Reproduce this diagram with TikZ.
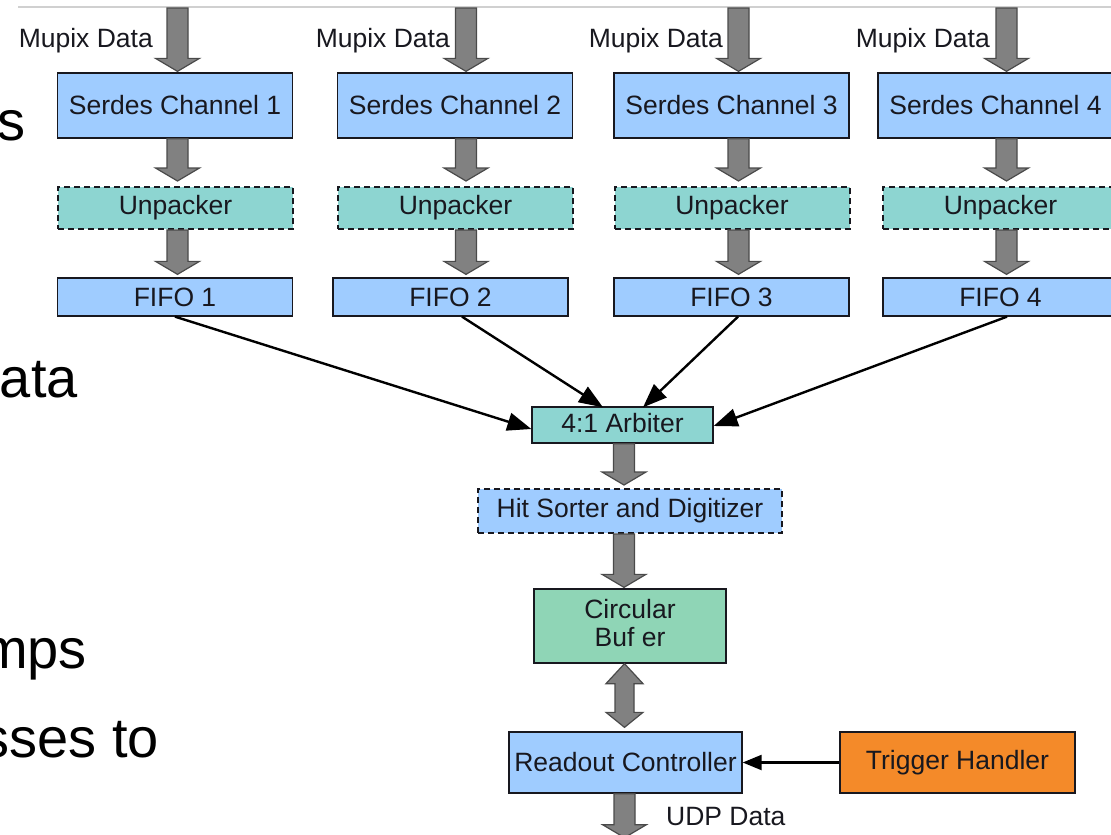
\documentclass[tikz,border=0pt]{standalone}
\usepackage{fontspec}
\setmainfont{Liberation Sans}
\usetikzlibrary{arrows.meta,calc}

\definecolor{boxblue}{HTML}{9FCCFF}
\definecolor{boxteal}{HTML}{8DD5D1}
\definecolor{boxgreen}{HTML}{8FD5B6}
\definecolor{boxorange}{HTML}{F48A29}
\definecolor{arrowgrey}{HTML}{818181}
\definecolor{arrowedge}{HTML}{4A4A4A}
\definecolor{inkdark}{HTML}{18181F}
\definecolor{ruleline}{HTML}{D0D0D0}

\tikzset{
  blk/.style={draw=inkdark, line width=1.3pt, text=inkdark, inner sep=0pt,
    font=\fontsize{26.5}{28}\selectfont, align=center},
  dashedbox/.style={dash pattern=on 6pt off 4pt, line width=2pt},
  serdes/.style={blk, fill=boxblue, minimum width=235pt, minimum height=65pt},
  unpack/.style={blk, fill=boxteal, dashedbox, minimum width=235pt, minimum height=42pt},
  fifo/.style={blk, fill=boxblue, minimum width=235pt, minimum height=38pt},
  flow/.style={draw=arrowedge, fill=arrowgrey, line width=1.2pt, line join=miter},
  link/.style={draw=black, line width=2.4pt, -{Triangle[length=24pt,width=18pt]}},
  lbl/.style={text=inkdark, inner sep=0pt, font=\fontsize{26.5}{28}\selectfont},
  slidetext/.style={inner sep=0pt, font=\fontsize{56}{60}\selectfont, anchor=base east},
}

% wide grey data-flow arrow, pointing down from #1 to the tip #2
\newcommand\blockarrow[2]{%
  \path[flow] let \p1=#1, \p2=#2 in
    (\x1-10.5pt,\y1) -- (\x1-10.5pt,\y2+13pt) -- (\x1-22pt,\y2+13pt)
    -- (\x1,\y2) -- (\x1+22pt,\y2+13pt) -- (\x1+10.5pt,\y2+13pt)
    -- (\x1+10.5pt,\y1) -- cycle;}

\begin{document}
\begin{tikzpicture}[x=1pt,y=-1pt]
\useasboundingbox (0,0) rectangle (1111,835);
\clip (0,0) rectangle (1111,835);

% slide text running behind the diagram
\node[slidetext] (t1) at (26,140) {s};
\node[slidetext] (t2) at (78,397) {ata};
\node[slidetext] (t3) at (87,668) {mps};
\node[slidetext] (t4) at (159,757) {sses to};

% header rule
\coordinate (rl) at (18,7);
\coordinate (rr) at (1111,7);
\draw[ruleline, line width=1.5pt] (rl) -- (rr);

% arrow columns
\coordinate (c1) at (177.5,8);
\coordinate (c2) at (466,8);
\coordinate (c3) at (738.5,8);
\coordinate (c4) at (1006.5,8);
\coordinate (ca) at (624,0);
\coordinate (cd) at (624.5,0);

% input channels
\node[serdes] (S1) at (175,105.5)   {Serdes Channel 1};
\node[serdes] (S2) at (455,105.5)   {Serdes Channel 2};
\node[serdes] (S3) at (731.5,105.5) {Serdes Channel 3};
\node[serdes] (S4) at (995.5,105.5) {Serdes Channel 4};

\node[unpack] (U1) at (175.5,208)  {Unpacker};
\node[unpack] (U2) at (455.5,208)  {Unpacker};
\node[unpack] (U3) at (732,208)    {Unpacker};
\node[unpack] (U4) at (1000.5,208) {Unpacker};

\node[fifo] (F1) at (175,297)    {FIFO 1};
\node[fifo] (F2) at (450.5,297)  {FIFO 2};
\node[fifo] (F3) at (731.5,297)  {FIFO 3};
\node[fifo] (F4) at (1000.5,297) {FIFO 4};

% input labels
\node[lbl, anchor=base east] (m1) at (153,47) {Mupix Data};
\node[lbl, anchor=base east] (m2) at (450,47) {Mupix Data};
\node[lbl, anchor=base east] (m3) at (723,47) {Mupix Data};
\node[lbl, anchor=base east] (m4) at (990,47) {Mupix Data};

% processing chain
\node[blk, fill=boxteal, minimum width=181pt, minimum height=36pt, text depth=4pt] (A) at (622.5,425) {4:1 Arbiter};
\node[blk, fill=boxblue, dashedbox, minimum width=304pt, minimum height=44pt] (H) at (630,511) {Hit Sorter and Digitizer};
\node[blk, fill=boxgreen, minimum width=192pt, minimum height=74pt] (C) at (630,626) {Circular\\Buf er\vphantom{g}\rule[-6pt]{0pt}{1pt}};
\node[blk, fill=boxblue, minimum width=233pt, minimum height=61pt] (R) at (625.5,762.5) {Readout Controller};
\node[blk, fill=boxorange, minimum width=235pt, minimum height=61pt] (T) at (957.5,762.5) {Trigger Handler};
\node[lbl, anchor=base west] (udp) at (666,825) {UDP Data};

% data flow down each channel
\blockarrow{(c1)}{($(c1 |- S1.north)+(0,-1)$)}
\blockarrow{(c2)}{($(c2 |- S2.north)+(0,-1)$)}
\blockarrow{(c3)}{($(c3 |- S3.north)+(0,-1)$)}
\blockarrow{(c4)}{($(c4 |- S4.north)+(0,-1)$)}

\blockarrow{(c1 |- S1.south)}{($(c1 |- U1.north)+(0,-5)$)}
\blockarrow{(c2 |- S2.south)}{($(c2 |- U2.north)+(0,-5)$)}
\blockarrow{(c3 |- S3.south)}{($(c3 |- U3.north)+(0,-5)$)}
\blockarrow{(c4 |- S4.south)}{($(c4 |- U4.north)+(0,-5)$)}

\blockarrow{(c1 |- U1.south)}{($(c1 |- F1.north)+(0,-3)$)}
\blockarrow{(c2 |- U2.south)}{($(c2 |- F2.north)+(0,-3)$)}
\blockarrow{(c3 |- U3.south)}{($(c3 |- F3.north)+(0,-3)$)}
\blockarrow{(c4 |- U4.south)}{($(c4 |- F4.north)+(0,-3)$)}

% FIFOs into the arbiter
\draw[link] (F1.south) -- ($(A.west)+(0,4)$);
\draw[link] ($(F2.south)+(11.5,0)$) -- ($(A.north)+(-19.5,1)$);
\draw[link] ($(F3.south)+(6.5,0)$) -- ($(A.north)+(20.5,1)$);
\draw[link] ($(F4.south)+(6.5,0)$) -- ($(A.east)+(0,1)$);

% central chain
\blockarrow{(ca |- A.south)}{($(ca |- H.north)+(0,-3)$)}
\blockarrow{(ca |- H.south)}{($(ca |- C.north)+(0,-1)$)}

% buffer <-> readout
\path[flow] let \p1=(cd |- C.south), \p2=($(cd |- R.north)+(0,-4)$) in
  (\x1,\y1) -- (\x1+18.5pt,\y1-20pt) -- (\x1+9.5pt,\y1-20pt)
  -- (\x1+9.5pt,\y2+15pt) -- (\x1+18.5pt,\y2+15pt) -- (\x1,\y2)
  -- (\x1-18.5pt,\y2+15pt) -- (\x1-9.5pt,\y2+15pt)
  -- (\x1-9.5pt,\y1-20pt) -- (\x1-18.5pt,\y1-20pt) -- cycle;

% output
\blockarrow{(cd |- R.south)}{($(cd |- R.south)+(0,44)$)}

% trigger
\draw[draw=black, line width=2.2pt, -{Triangle[length=19pt,width=15pt]}] (T.west) -- (R.east);
\end{tikzpicture}
\end{document}
